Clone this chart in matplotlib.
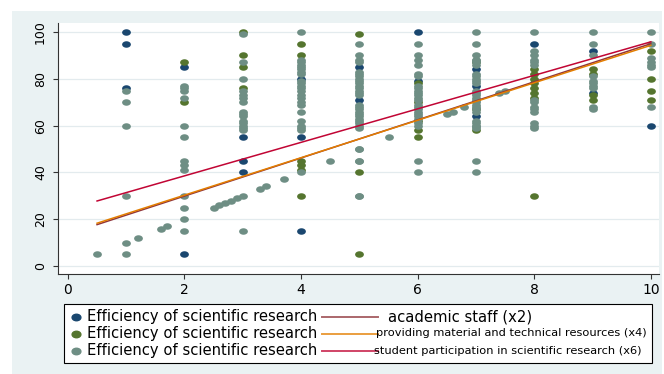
import numpy as np
import matplotlib.pyplot as plt
from matplotlib.path import Path
from matplotlib.transforms import Affine2D
from matplotlib.patches import Rectangle
from matplotlib.lines import Line2D

plt.rcParams['font.family'] = ['DejaVu Sans']

# efficiency of scientific research vs academic staff (x2)
staff_x = [1, 1, 1, 2, 2, 3, 3, 3, 4, 4, 4, 5, 5, 6, 6, 7, 7, 7, 8, 9, 9, 10]
staff_y = [100, 95, 76, 85, 5, 55, 45, 40, 80, 55, 15, 85, 71, 100, 79, 84, 77, 64, 95, 92, 74, 60]

# efficiency vs providing material and technical resources (x4)
material_x = [2, 2,
              3, 3, 3, 3,
              4, 4, 4, 4, 4, 4,
              5, 5, 5,
              6, 6, 6, 6, 6,
              7, 7, 7,
              8, 8, 8, 8, 8, 8, 8, 8,
              9, 9, 9, 9,
              10, 10, 10, 10]
material_y = [87, 70,
              100, 90, 85, 76,
              95, 90, 45, 43, 41, 30,
              99, 40, 5,
              78, 70, 62, 58, 55,
              87, 67, 58,
              84, 82, 80, 78, 76, 74, 72, 30,
              84, 82, 73, 71,
              92, 80, 75, 71]

# efficiency vs student participation in scientific research (x6)
student_x = [0.5, 1.2, 1.6, 1.7, 2.5, 2.6, 2.7, 2.8, 2.9, 3.3, 3.4, 3.7, 4.5, 5.5, 6.5, 6.6, 6.8, 7.4, 7.5,
             1, 1, 1, 1, 1, 1,
             2, 2, 2, 2, 2, 2, 2, 2, 2, 2, 2, 2, 2,
             3, 3, 3, 3, 3, 3, 3, 3, 3, 3, 3, 3, 3, 3, 3, 3, 3,
             4, 4, 4, 4, 4, 4, 4, 4, 4, 4, 4, 4, 4, 4, 4, 4, 4, 4, 4, 4, 4, 4, 4,
             5, 5, 5, 5, 5, 5, 5, 5, 5, 5, 5, 5, 5, 5, 5, 5, 5, 5, 5, 5, 5, 5, 5, 5, 5, 5, 5, 5, 5, 5, 5, 5,
             6, 6, 6, 6, 6, 6, 6, 6, 6, 6, 6, 6, 6, 6, 6, 6, 6, 6, 6, 6, 6, 6, 6, 6,
             7, 7, 7, 7, 7, 7, 7, 7, 7, 7, 7, 7, 7, 7, 7, 7, 7, 7, 7, 7, 7, 7, 7, 7, 7, 7, 7, 7, 7,
             8, 8, 8, 8, 8, 8, 8, 8, 8, 8, 8, 8, 8, 8,
             9, 9, 9, 9, 9, 9, 9, 9, 9, 9,
             10, 10, 10, 10, 10, 10, 10]
student_y = [5, 12, 16, 17, 25, 26, 27, 28, 29, 33, 34, 37, 45, 55, 65, 66, 68, 74, 75,
             75, 70, 60, 30, 10, 5,
             77, 76, 75, 72, 60, 55, 45, 43, 41, 30, 25, 20, 15,
             99, 87, 80, 75, 73, 72, 70, 66, 65, 64, 62, 61, 60, 59, 58, 30, 15,
             100, 88, 87, 86, 85, 84, 83, 82, 79, 78, 77, 76, 75, 73, 72, 70, 69, 66, 62, 60, 59, 58, 40,
             95, 90, 88, 87, 83, 82, 81, 80, 79, 78, 77, 76, 75, 74, 73, 69, 68, 67, 66, 65, 64, 63, 62, 61, 60, 59, 50, 45, 30, 45, 50, 30,
             95, 90, 88, 86, 82, 81, 77, 76, 75, 74, 73, 72, 71, 69, 68, 67, 66, 65, 64, 63, 61, 60, 45, 40,
             100, 95, 90, 88, 87, 86, 82, 81, 80, 79, 78, 75, 74, 73, 72, 71, 70, 69, 68, 67, 66, 62, 61, 60, 59, 45, 40, 60, 88,
             100, 92, 90, 88, 87, 86, 71, 70, 68, 67, 66, 61, 60, 59,
             100, 95, 90, 81, 79, 78, 77, 76, 68, 67,
             100, 95, 89, 87, 86, 85, 68]

# fitted values at the ends of the x range
fit_x = [0.5, 10]
fit_staff = [17.7, 95.0]
fit_material = [18.3, 94.3]
fit_student = [27.8, 95.8]

x_ticks = [0, 2, 4, 6, 8, 10]
y_ticks = [0, 20, 40, 60, 80, 100]

point_label = 'Efficiency of scientific research'
line_labels = ['academic staff (x2)',
               'providing material and technical resources (x4)',
               'student participation in scientific research (x6)']

NAVY, GREEN, TEAL = '#1a476f', '#55752f', '#6e8e84'
MAROON, ORANGE, CRANBERRY = '#90353b', '#e37e00', '#c10534'

W, H = 664, 374
DOT_SIZE = 40


def px(x, y):
    # pixel position (from top-left) to figure fraction
    return x / W, 1 - y / H


fig = plt.figure(figsize=(W / 100, H / 100), dpi=100, facecolor='white')

# light graph region behind the white plot region
fig.add_artist(Rectangle(px(12, 374), 650 / W, 363 / H, transform=fig.transFigure,
                         facecolor='#eaf2f3', edgecolor='none', zorder=-1))

ax = fig.add_axes([58 / W, 100 / H, 601 / W, 251 / H])

# slightly wide dots
dot = Path.unit_circle().transformed(Affine2D().scale(1.35, 1.0))

ax.scatter(staff_x, staff_y, s=DOT_SIZE, marker=dot, color=NAVY, linewidths=0, zorder=3)
ax.scatter(material_x, material_y, s=DOT_SIZE, marker=dot, color=GREEN, linewidths=0, zorder=3)
ax.scatter(student_x, student_y, s=DOT_SIZE, marker=dot, color=TEAL, linewidths=0, zorder=3)

ax.plot(fit_x, fit_staff, color=MAROON, lw=1.1, zorder=4)
ax.plot(fit_x, fit_material, color=ORANGE, lw=1.1, zorder=4)
ax.plot(fit_x, fit_student, color=CRANBERRY, lw=1.1, zorder=4)

ax.set_xlim(-0.17, 10.14)
ax.set_ylim(-3.4, 103.85)
ax.set_xticks(x_ticks)
ax.set_yticks(y_ticks)
ax.grid(axis='y', color='#e3ebee', lw=0.9)
ax.set_axisbelow(True)
for side in ['top', 'right']:
    ax.spines[side].set_visible(False)
for side in ['left', 'bottom']:
    ax.spines[side].set_color('#333333')
    ax.spines[side].set_linewidth(0.8)
ax.tick_params(direction='out', length=3.8, width=0.8, color='#333333')
ax.tick_params(axis='x', labelsize=10, pad=3)
ax.tick_params(axis='y', labelsize=9, pad=4)
plt.setp(ax.get_yticklabels(), rotation=90, va='center')

# legend box
fig.add_artist(Rectangle(px(64, 363), 588 / W, 59 / H, transform=fig.transFigure,
                         facecolor='white', edgecolor='black', lw=0.8))
rows = [316.5, 333.5, 350.5]
for yy, c in zip(rows, [NAVY, GREEN, TEAL]):
    fig.add_artist(Line2D([px(75.5, yy)[0]], [px(75.5, yy)[1]], marker=dot, markersize=np.sqrt(DOT_SIZE),
                          color=c, linestyle='none', transform=fig.transFigure))
    fig.text(*px(87, yy), point_label, fontsize=10.6, va='center', ha='left')
for yy, c, lab, lx, fs in zip(rows, [MAROON, ORANGE, CRANBERRY], line_labels,
                              [388, 376, 374], [10.6, 8.2, 8.2]):
    x0, y0 = px(322, yy)
    x1, _ = px(378, yy)
    fig.add_artist(Line2D([x0, x1], [y0, y0], color=c, lw=1.4, alpha=0.75,
                          transform=fig.transFigure))
    fig.text(*px(lx, yy), lab, fontsize=fs, va='center', ha='left')

fig.savefig('out.png', dpi=100, facecolor='white')
